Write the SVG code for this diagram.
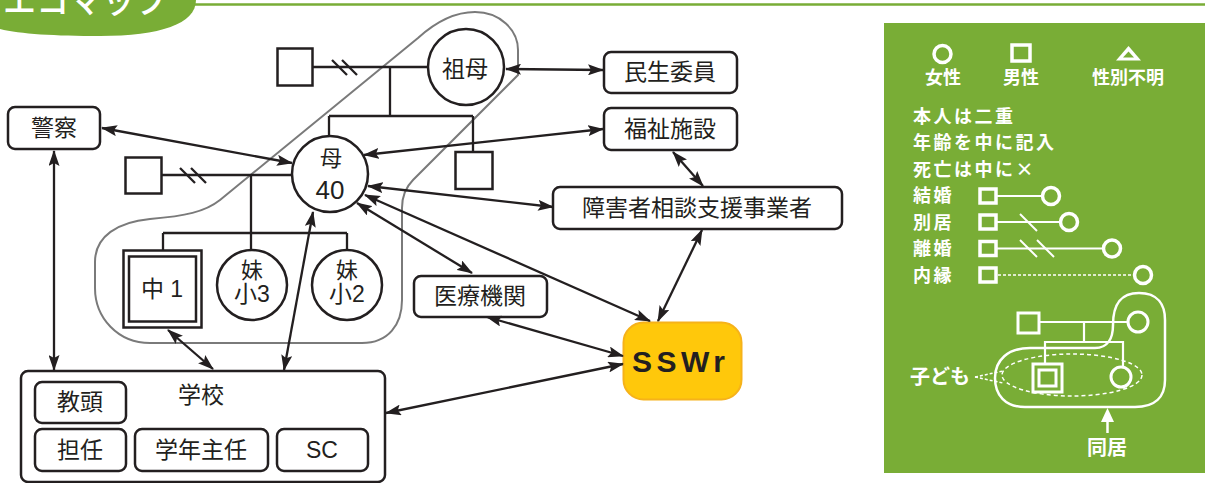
<svg xmlns="http://www.w3.org/2000/svg" width="1205" height="483" viewBox="0 0 1205 483">
<defs>
<style>
.t{font-family:"Liberation Sans","Noto Sans CJK JP",sans-serif;font-size:23px;fill:#231f20;text-anchor:middle}
.ln{stroke:#231f20;stroke-width:2.3;fill:none}
.nd{stroke:#231f20;stroke-width:2.5;fill:#fff}
.ar{stroke:#231f20;stroke-width:2.3;fill:none;marker-start:url(#ah);marker-end:url(#ah)}
.w{stroke:#fff;stroke-width:3.5;fill:none}
.wt{font-family:"Noto Sans CJK JP",sans-serif;font-weight:bold;font-size:18px;letter-spacing:2.5px;fill:#fff}
.wc{font-family:"Noto Sans CJK JP",sans-serif;font-weight:bold;font-size:18px;fill:#fff;text-anchor:middle}
.wb{font-family:"Noto Sans CJK JP",sans-serif;font-weight:bold;font-size:20px;fill:#fff;text-anchor:middle}
</style>
<marker id="ah" viewBox="0 0 16 11" refX="15" refY="5.5" markerWidth="16" markerHeight="11" markerUnits="userSpaceOnUse" orient="auto-start-reverse">
<path d="M0,0 L16,5.5 L0,11 L3,5.5 z" fill="#231f20"/>
</marker>
</defs>
<rect width="1205" height="483" fill="#fff"/>

<g id="header">
<path d="M0,0 L196,0 C196,24 160,36 100,36 C55,36 20,34 0,29 Z" fill="#79ad36"/>
<line x1="190" y1="4.5" x2="1205" y2="4.5" stroke="#79ad36" stroke-width="2.6"/>
<text x="3" y="13" font-family="Noto Sans CJK JP,sans-serif" font-weight="500" font-size="33" fill="#fff">エコマップ</text>
</g>

<g id="household">
<path d="M220,200 L418,38 C440,18 458,12 475,12 C500,12 518,30 518,50 L518,75 L413,180 C405,188 402,196 402,208 L402,300 C402,325 388,343 362,343 L150,343 C118,343 95,318 95,288 L95,262 C95,236 118,222 150,219 C185,216 205,212 220,200 Z" fill="none" stroke="#7a7a7a" stroke-width="2"/>
</g>

<g id="family-lines">
<line class="ln" x1="313" y1="67" x2="428" y2="67"/>
<line class="ln" x1="332" y1="60" x2="347" y2="75"/>
<line class="ln" x1="342" y1="60" x2="357" y2="75"/>
<line class="ln" x1="390" y1="67" x2="390" y2="116"/>
<line class="ln" x1="329" y1="116" x2="473" y2="116"/>
<line class="ln" x1="329" y1="116" x2="329" y2="136"/>
<line class="ln" x1="473" y1="116" x2="473" y2="152"/>
<line class="ln" x1="162" y1="175" x2="292" y2="175"/>
<line class="ln" x1="180" y1="168" x2="195" y2="183"/>
<line class="ln" x1="191" y1="168" x2="206" y2="183"/>
<line class="ln" x1="251" y1="175" x2="251" y2="250"/>
<line class="ln" x1="163" y1="233" x2="347" y2="233"/>
<line class="ln" x1="163" y1="233" x2="163" y2="250"/>
<line class="ln" x1="347" y1="233" x2="347" y2="250"/>
</g>

<g id="grandfather"><rect class="nd" x="277.5" y="48.5" width="35" height="37"/></g>
<g id="grandmother"><circle class="nd" cx="466" cy="67" r="38"/><text class="t" x="465" y="77">祖母</text></g>
<g id="uncle"><rect class="nd" x="455.5" y="152" width="37" height="37"/></g>
<g id="father"><rect class="nd" x="125.5" y="157.5" width="36" height="36"/></g>
<g id="mother"><circle class="nd" cx="330" cy="174" r="38"/><text class="t" x="331" y="166" style="font-size:22px">母</text><text class="t" x="330" y="199" style="font-size:26px">40</text></g>
<g id="self"><rect class="nd" x="123.5" y="250.5" width="78" height="77"/><rect class="nd" x="129" y="256.5" width="67" height="65"/><text class="t" x="162" y="297">中 1</text></g>
<g id="sister3"><circle class="nd" cx="252" cy="285" r="35"/><text class="t" x="252" y="278" style="font-size:22px">妹</text><text class="t" x="252" y="302">小3</text></g>
<g id="sister2"><circle class="nd" cx="347" cy="285" r="35"/><text class="t" x="347" y="278" style="font-size:22px">妹</text><text class="t" x="347" y="302">小2</text></g>

<g id="minsei"><rect class="nd" x="604" y="52" width="133" height="41" rx="7"/><text class="t" x="670" y="80">民生委員</text></g>
<g id="fukushi"><rect class="nd" x="604" y="108" width="133" height="42" rx="7"/><text class="t" x="670" y="137">福祉施設</text></g>
<g id="shogaisha"><rect class="nd" x="553" y="187" width="289" height="42" rx="7"/><text class="t" x="697" y="216">障害者相談支援事業者</text></g>
<g id="iryo"><rect class="nd" x="414" y="276" width="133" height="41" rx="7"/><text class="t" x="480" y="304">医療機関</text></g>
<g id="keisatsu"><rect class="nd" x="8" y="107" width="92" height="42" rx="7"/><text class="t" x="54" y="136">警察</text></g>
<g id="sswr"><rect x="623.5" y="322.5" width="118" height="77" rx="20" fill="#ffc80b" stroke="#f6b21a" stroke-width="2"/><text x="632" y="372" font-family="Liberation Sans,sans-serif" font-weight="bold" font-size="30" letter-spacing="4.5" fill="#231f20">SSWr</text></g>
<g id="school">
<rect class="nd" x="21" y="371" width="364" height="111" rx="7"/>
<text class="t" x="201" y="403">学校</text>
<rect class="nd" x="35" y="382" width="91" height="41" rx="7"/><text class="t" x="80" y="410">教頭</text>
<rect class="nd" x="35" y="429" width="91" height="42" rx="7"/><text class="t" x="80" y="458">担任</text>
<rect class="nd" x="135" y="429" width="133" height="42" rx="7"/><text class="t" x="201" y="458">学年主任</text>
<rect class="nd" x="277" y="429" width="91" height="42" rx="7"/><text class="t" x="322" y="458">SC</text>
</g>

<g id="connectors">
<line class="ar" x1="506" y1="69" x2="603" y2="70"/>
<line class="ar" x1="364" y1="155" x2="603" y2="129"/>
<line class="ar" x1="102" y1="128" x2="292" y2="163"/>
<line class="ar" x1="368" y1="186" x2="553" y2="207"/>
<line class="ar" x1="365" y1="195" x2="650" y2="321"/>
<line class="ar" x1="357" y1="203" x2="472" y2="273"/>
<line class="ar" x1="673" y1="152" x2="703" y2="186"/>
<line class="ar" x1="702" y1="230" x2="658" y2="321"/>
<line class="ar" x1="487" y1="317" x2="623" y2="356"/>
<line class="ar" x1="386" y1="413" x2="623" y2="364"/>
<line class="ar" x1="54" y1="151" x2="54" y2="370"/>
<line class="ar" x1="168" y1="330" x2="213" y2="369"/>
<line class="ar" x1="313" y1="212" x2="284" y2="370"/>
</g>

<g id="legend">
<rect x="884" y="23" width="321" height="450" fill="#79ad36"/>
<circle class="w" cx="942.5" cy="54" r="8.5"/>
<rect class="w" x="1012" y="45" width="18" height="16"/>
<polygon points="1116,60.5 1141,60.5 1128.5,46" fill="#fff"/>
<polygon points="1123,57.5 1134,57.5 1128.5,51.5" fill="#79ad36"/>
<text class="wc" x="943" y="83.5">女性</text>
<text class="wc" x="1021" y="83.5">男性</text>
<text class="wc" x="1128" y="83.5">性別不明</text>
<text class="wt" x="913" y="122.5">本人は二重</text>
<text class="wt" x="913" y="149">年齢を中に記入</text>
<text class="wt" x="913" y="175.5">死亡は中に×</text>
<text class="wt" x="913" y="202">結婚</text>
<text class="wt" x="913" y="228.5">別居</text>
<text class="wt" x="913" y="255">離婚</text>
<text class="wt" x="913" y="281.5">内縁</text>
<rect class="w" x="980" y="189" width="16" height="14" stroke-width="4"/>
<line x1="996" y1="196" x2="1042" y2="196" stroke="#fff" stroke-width="2"/>
<circle class="w" cx="1051" cy="196" r="8.5"/>
<rect class="w" x="980" y="215" width="16" height="14" stroke-width="4"/>
<line x1="996" y1="222" x2="1060" y2="222" stroke="#fff" stroke-width="2"/>
<line x1="1020" y1="214" x2="1037" y2="231" stroke="#fff" stroke-width="2"/>
<circle class="w" cx="1069" cy="222" r="8.5"/>
<rect class="w" x="980" y="241.5" width="16" height="14" stroke-width="4"/>
<line x1="996" y1="248.5" x2="1103" y2="248.5" stroke="#fff" stroke-width="2"/>
<line x1="1020" y1="240" x2="1037" y2="257" stroke="#fff" stroke-width="2"/>
<line x1="1037" y1="240" x2="1054" y2="257" stroke="#fff" stroke-width="2"/>
<circle class="w" cx="1112" cy="248.5" r="8.5"/>
<rect class="w" x="980" y="268" width="16" height="14" stroke-width="4"/>
<line x1="998" y1="275" x2="1134" y2="275" stroke="#fff" stroke-width="1.5" stroke-dasharray="3 2"/>
<circle class="w" cx="1143" cy="275" r="8.5"/>

<rect x="1018" y="313" width="21" height="20" stroke="#fff" stroke-width="3" fill="none"/>
<line x1="1039" y1="322" x2="1128" y2="322" stroke="#fff" stroke-width="2.2"/>
<circle cx="1138" cy="322" r="10" stroke="#fff" stroke-width="3" fill="none"/>
<line x1="1084" y1="322" x2="1084" y2="342" stroke="#fff" stroke-width="2.2"/>
<polyline points="1045,364 1045,342 1123,342 1123,367" stroke="#fff" stroke-width="2.2" fill="none"/>
<rect x="1033" y="364" width="29" height="28" stroke="#fff" stroke-width="3" fill="none"/>
<rect x="1039" y="370" width="17" height="16" stroke="#fff" stroke-width="3" fill="none"/>
<circle cx="1121" cy="377" r="10" stroke="#fff" stroke-width="3" fill="none"/>
<ellipse cx="1072" cy="375" rx="70" ry="21" stroke="#fff" stroke-width="1.5" stroke-dasharray="4 3" fill="none"/>
<path d="M1113,325 C1113,305 1120,293 1139,293 C1158,293 1165,305 1165,320 L1165,380 C1165,397 1155,407 1135,407 L1025,407 C1005,407 995,395 995,378 C995,360 1008,348 1030,348 L1095,348 C1108,348 1113,338 1113,325 Z" stroke="#fff" stroke-width="2.5" fill="none"/>
<text class="wb" x="940" y="384">子ども</text>
<line x1="975" y1="377" x2="1003" y2="371" stroke="#fff" stroke-width="1.5" stroke-dasharray="3 2"/>
<line x1="975" y1="377" x2="1003" y2="383" stroke="#fff" stroke-width="1.5" stroke-dasharray="3 2"/>
<line x1="1107.5" y1="433" x2="1107.5" y2="420" stroke="#fff" stroke-width="2.5"/>
<polygon points="1101,422 1107.5,408 1114,422" fill="#fff"/>
<text class="wb" x="1107" y="455">同居</text>
</g>
</svg>
